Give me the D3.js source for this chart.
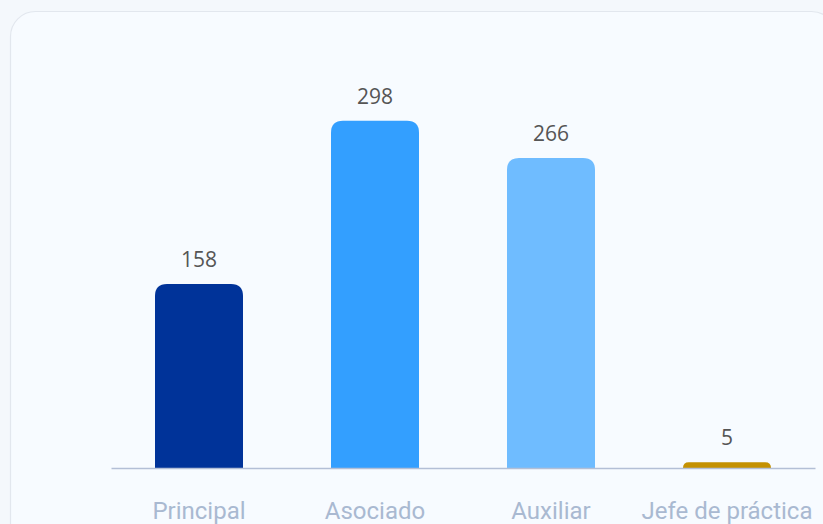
<!DOCTYPE html>
<html><head><meta charset="utf-8">
<script src="https://cdn.jsdelivr.net/npm/d3@7"></script>
<style>
html,body{margin:0;padding:0;background:#f4f8fc;}
svg{display:block;}
</style></head>
<body>
<script>
const categories = ["Principal", "Asociado", "Auxiliar", "Jefe de práctica"];
const values = [158, 298, 266, 5];
const colors = ["#003399", "#339fff", "#6fbcff", "#c49102"];

const W = 823, H = 524;
const svg = d3.select("body").append("svg").attr("width", W).attr("height", H);

svg.append("rect").attr("x", 10.5).attr("y", 11.5).attr("width", 826).attr("height", 540)
  .attr("rx", 25).attr("fill", "#f7fbff").attr("stroke", "#e2e7ee").attr("stroke-width", 1.2);

const x0 = 111, x1 = 815, baseY = 468;
const x = d3.scaleBand().domain(categories).range([x0, x1]).paddingInner(0.5).paddingOuter(0.25);
const y = d3.scaleLinear().domain([0, 300]).range([baseY, baseY - 349.5]);

function topRounded(xl, yt, w, h, r) {
  r = Math.min(r, h, w / 2);
  return `M${xl},${yt + h}V${yt + r}Q${xl},${yt} ${xl + r},${yt}H${xl + w - r}Q${xl + w},${yt} ${xl + w},${yt + r}V${yt + h}Z`;
}

const data = categories.map((c, i) => ({c, v: values[i], col: colors[i]}));

svg.selectAll("path.bar").data(data).enter().append("path").attr("class", "bar")
  .attr("d", d => topRounded(x(d.c), y(d.v), x.bandwidth(), baseY - y(d.v), 12))
  .attr("fill", d => d.col);

const axis = d3.axisBottom(x).tickSize(0).tickPadding(34);
const g = svg.append("g").attr("transform", `translate(0,${baseY})`).call(axis);
g.select(".domain").attr("stroke", "#b3bfd6").attr("stroke-width", 1.5);
g.selectAll("text").attr("fill", "#a9b9d1").style("font-family", "'Liberation Sans Narrow', 'Roboto', sans-serif")
  .style("font-size", "24px");

svg.selectAll("text.val").data(data).enter().append("text").attr("class", "val")
  .attr("x", d => x(d.c) + x.bandwidth() / 2).attr("y", d => y(d.v) - 17)
  .attr("text-anchor", "middle").attr("fill", "#555555")
  .style("font-family", "'Open Sans', sans-serif").style("font-size", "21px")
  .text(d => d.v);
</script>
</body></html>
